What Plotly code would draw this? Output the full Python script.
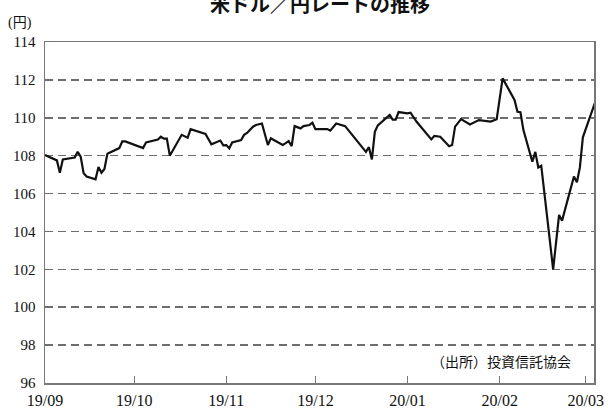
import plotly.graph_objects as go

dates = [
    "2019-09-01", "2019-09-05", "2019-09-06", "2019-09-07", "2019-09-11", "2019-09-12",
    "2019-09-13", "2019-09-14", "2019-09-15", "2019-09-18", "2019-09-19", "2019-09-20",
    "2019-09-21", "2019-09-22", "2019-09-26", "2019-09-27", "2019-09-28",
    "2019-10-04", "2019-10-05", "2019-10-09", "2019-10-10", "2019-10-11", "2019-10-12",
    "2019-10-13", "2019-10-17", "2019-10-19", "2019-10-20", "2019-10-24", "2019-10-25",
    "2019-10-27", "2019-10-30", "2019-10-31",
    "2019-11-01", "2019-11-02", "2019-11-03", "2019-11-06", "2019-11-07", "2019-11-08",
    "2019-11-10", "2019-11-11", "2019-11-13", "2019-11-15", "2019-11-16", "2019-11-17",
    "2019-11-20", "2019-11-22", "2019-11-23", "2019-11-24", "2019-11-26", "2019-11-27",
    "2019-11-29", "2019-11-30",
    "2019-12-01", "2019-12-05", "2019-12-06", "2019-12-08", "2019-12-11", "2019-12-18",
    "2019-12-19", "2019-12-20", "2019-12-21", "2019-12-22", "2019-12-26", "2019-12-27",
    "2019-12-28", "2019-12-29",
    "2020-01-01", "2020-01-02", "2020-01-04", "2020-01-09", "2020-01-10", "2020-01-12",
    "2020-01-15", "2020-01-16", "2020-01-17", "2020-01-19", "2020-01-22", "2020-01-25",
    "2020-01-29", "2020-01-31",
    "2020-02-02", "2020-02-06", "2020-02-07", "2020-02-08", "2020-02-09", "2020-02-12",
    "2020-02-13", "2020-02-14", "2020-02-15", "2020-02-19", "2020-02-21", "2020-02-22",
    "2020-02-26", "2020-02-27", "2020-02-28", "2020-02-29",
    "2020-03-04",
]

usd_jpy = [
    108.03, 107.75, 107.10, 107.80, 107.90, 108.20,
    107.95, 107.07, 106.90, 106.75, 107.40, 107.10,
    107.30, 108.10, 108.40, 108.75, 108.75,
    108.40, 108.70, 108.85, 109.00, 108.90, 108.90,
    108.00, 109.10, 108.95, 109.40, 109.20, 109.15,
    108.60, 108.80, 108.55,
    108.56, 108.39, 108.70, 108.83, 109.10, 109.20,
    109.53, 109.62, 109.70, 108.56, 108.92, 108.83,
    108.56, 108.77, 108.50, 109.56, 109.44, 109.56,
    109.62, 109.74,
    109.40, 109.40, 109.32, 109.70, 109.56, 108.20,
    108.45, 107.80, 109.26, 109.60, 110.15, 109.90,
    109.90, 110.30,
    110.23, 110.27, 109.80, 108.86, 109.04, 109.00,
    108.50, 108.56, 109.53, 109.93, 109.65, 109.88,
    109.80, 109.92,
    112.08, 110.94, 110.32, 110.29, 109.35, 107.68,
    108.20, 107.38, 107.47, 102.00, 104.87, 104.57,
    106.90, 106.60, 107.38, 108.97,
    110.76,
]

tick_dates = ["2019-09-01", "2019-10-01", "2019-11-01", "2019-12-01",
              "2020-01-01", "2020-02-01", "2020-03-01"]
tick_labels = ["19/09", "19/10", "19/11", "19/12", "20/01", "20/02", "20/03"]
y_ticks = [96, 98, 100, 102, 104, 106, 108, 110, 112, 114]

title_text = "米ドル／円レートの推移"
unit_text = "(円)"
source_text = "（出所）投資信託協会"

FONT = "Liberation Serif, Noto Sans CJK JP, serif"

fig = go.Figure()
fig.add_trace(go.Scatter(
    x=dates, y=usd_jpy, mode="lines",
    line=dict(color="#111111", width=2.2),
    showlegend=False, hoverinfo="skip",
))

fig.update_layout(
    width=608, height=410,
    margin=dict(l=45, r=14, t=42, b=27, autoexpand=False),
    paper_bgcolor="white", plot_bgcolor="white",
    font=dict(family=FONT, size=15, color="#111111"),
    showlegend=False,
)

fig.update_xaxes(
    type="date", automargin=False,
    range=["2019-09-01", "2020-03-03 18:00"],
    tickmode="array", tickvals=tick_dates, ticktext=tick_labels,
    ticks="inside", ticklen=7, tickwidth=1.3, tickcolor="#777777",
    showline=True, linecolor="#777777", linewidth=1.5, mirror=True,
    showgrid=False, zeroline=False,
    tickfont=dict(family=FONT, size=16, color="#111111"),
    ticklabelstandoff=2,
)

fig.update_yaxes(
    range=[96, 114], automargin=False,
    tickmode="array", tickvals=y_ticks,
    ticks="", showline=True, linecolor="#777777", linewidth=1.5, mirror=True,
    showgrid=True, gridcolor="#6e6e6e", gridwidth=1.5, griddash="8px,5px",
    zeroline=False,
    tickfont=dict(family=FONT, size=15, color="#111111"),
    ticklabelstandoff=5,
)

fig.add_annotation(
    text="<b>" + title_text + "</b>", xref="paper", yref="paper",
    x=0.5, y=1 + (42 - 5) / 341, xanchor="center", yanchor="middle",
    showarrow=False, font=dict(family=FONT, size=20, color="#111111"),
)
fig.add_annotation(
    text=unit_text, xref="paper", yref="paper",
    x=(6 - 45) / 549, y=1 + (42 - 23) / 341, xanchor="left", yanchor="middle",
    showarrow=False, font=dict(family=FONT, size=14, color="#111111"),
)
fig.add_annotation(
    text=source_text, xref="paper", yref="paper",
    x=(573 - 45) / 549, y=(383 - 362.7) / 341, xanchor="right", yanchor="middle",
    showarrow=False, font=dict(family=FONT, size=14, color="#111111"),
)

fig.write_html(
    "out.html",
    config={"displayModeBar": False, "staticPlot": True},
    post_script="document.body.style.margin='0';document.body.style.overflow='hidden';",
)
